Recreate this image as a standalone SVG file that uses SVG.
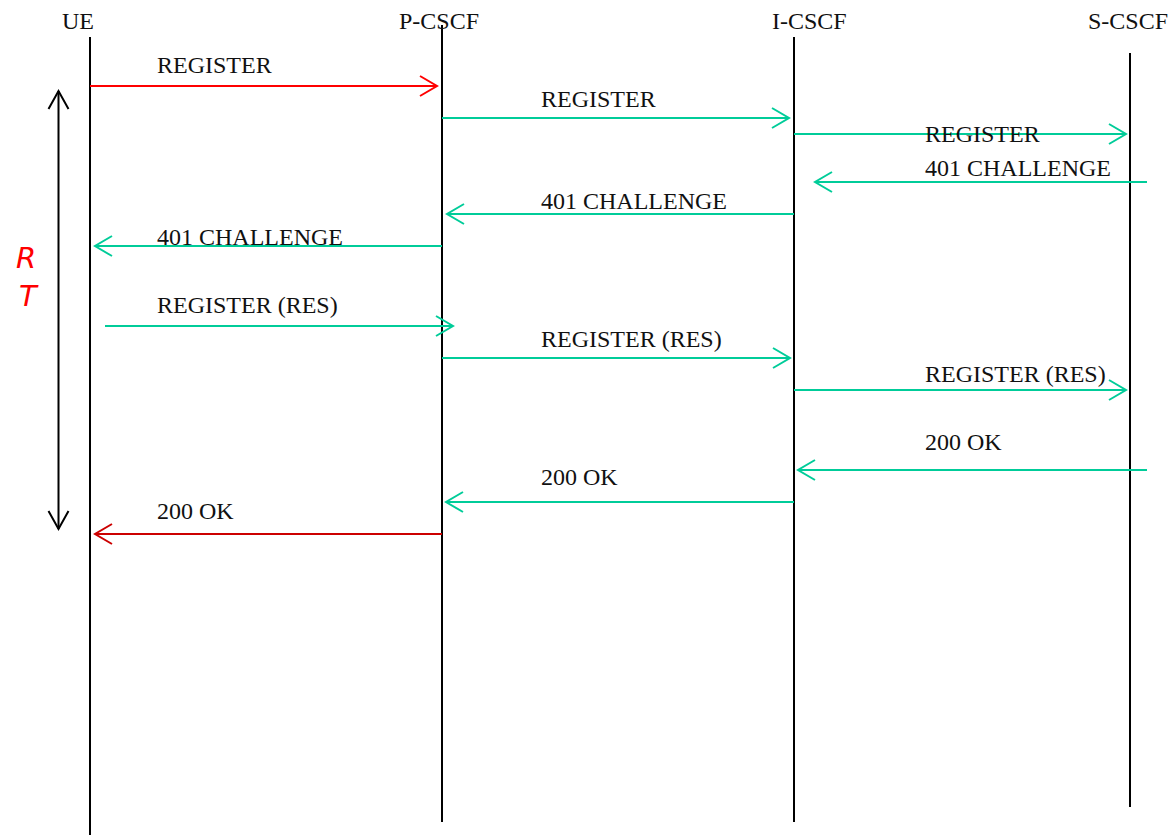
<svg xmlns="http://www.w3.org/2000/svg" width="1172" height="835" viewBox="0 0 1172 835">
<style>
.life{stroke:#000;stroke-width:2;fill:none}
.lbl{font-family:"Liberation Serif","Times New Roman",serif;font-size:24px;fill:#111}
.msg{stroke-width:2;fill:none}
.g{stroke:#00CC99}
.r{stroke:#FF0000}
.dr{stroke:#CC0000}
.rt{font-family:"DejaVu Sans","Liberation Sans",sans-serif;font-style:italic;font-size:29px;fill:#FF0000}
</style>
<defs>
<marker id="ag" markerUnits="userSpaceOnUse" markerWidth="22" markerHeight="26" viewBox="-19 -12 22 24" refX="0" refY="0" orient="auto"><path d="M-17,-10 L0,0 L-17,10" fill="none" stroke="#00CC99" stroke-width="2"/></marker>
<marker id="ar" markerUnits="userSpaceOnUse" markerWidth="22" markerHeight="26" viewBox="-19 -12 22 24" refX="0" refY="0" orient="auto"><path d="M-17,-10 L0,0 L-17,10" fill="none" stroke="#FF0000" stroke-width="2"/></marker>
<marker id="adr" markerUnits="userSpaceOnUse" markerWidth="22" markerHeight="26" viewBox="-19 -12 22 24" refX="0" refY="0" orient="auto"><path d="M-17,-10 L0,0 L-17,10" fill="none" stroke="#CC0000" stroke-width="2"/></marker>
<marker id="ak" markerUnits="userSpaceOnUse" markerWidth="22" markerHeight="26" viewBox="-19 -12 22 24" refX="0" refY="0" orient="auto-start-reverse"><path d="M-18,-10 L0,0 L-18,10" fill="none" stroke="#000" stroke-width="2"/></marker>
</defs>
<rect width="1172" height="835" fill="#fff"/>
<g id="ue">
<line class="life" x1="90" y1="37" x2="90" y2="835"/>
<text class="lbl" x="62" y="29">UE</text>
</g>
<g id="pcscf">
<line class="life" x1="442" y1="25" x2="442" y2="822"/>
<text class="lbl" x="399" y="29">P-CSCF</text>
</g>
<g id="icscf">
<line class="life" x1="794" y1="37" x2="794" y2="822"/>
<text class="lbl" x="772" y="29">I-CSCF</text>
</g>
<g id="scscf">
<line class="life" x1="1130" y1="53" x2="1130" y2="807"/>
<text class="lbl" x="1088" y="29">S-CSCF</text>
</g>
<g id="rt">
<line x1="58.5" y1="91" x2="58.5" y2="529" stroke="#000" stroke-width="2" marker-start="url(#ak)" marker-end="url(#ak)"/>
<text class="rt" x="16" y="268">R</text>
<text class="rt" x="19" y="306">T</text>
</g>
<g id="connectors">
<line class="msg r" x1="90" y1="86" x2="437" y2="86" marker-end="url(#ar)"/>
<text class="lbl" x="157" y="73">REGISTER</text>
<line class="msg g" x1="442" y1="118" x2="789" y2="118" marker-end="url(#ag)"/>
<text class="lbl" x="541" y="107">REGISTER</text>
<line class="msg g" x1="794" y1="134" x2="1126" y2="134" marker-end="url(#ag)"/>
<text class="lbl" x="925" y="142">REGISTER</text>
<line class="msg g" x1="1147" y1="182" x2="815" y2="182" marker-end="url(#ag)"/>
<text class="lbl" x="925" y="176">401 CHALLENGE</text>
<line class="msg g" x1="794" y1="214" x2="447" y2="214" marker-end="url(#ag)"/>
<text class="lbl" x="541" y="209">401 CHALLENGE</text>
<line class="msg g" x1="442" y1="246" x2="95" y2="246" marker-end="url(#ag)"/>
<text class="lbl" x="157" y="245">401 CHALLENGE</text>
<line class="msg g" x1="105" y1="326" x2="453" y2="326" marker-end="url(#ag)"/>
<text class="lbl" x="157" y="313">REGISTER (RES)</text>
<line class="msg g" x1="442" y1="358" x2="790" y2="358" marker-end="url(#ag)"/>
<text class="lbl" x="541" y="347">REGISTER (RES)</text>
<line class="msg g" x1="794" y1="390" x2="1126" y2="390" marker-end="url(#ag)"/>
<text class="lbl" x="925" y="382">REGISTER (RES)</text>
<line class="msg g" x1="1147" y1="470" x2="798" y2="470" marker-end="url(#ag)"/>
<text class="lbl" x="925" y="450">200 OK</text>
<line class="msg g" x1="794" y1="502" x2="446" y2="502" marker-end="url(#ag)"/>
<text class="lbl" x="541" y="485">200 OK</text>
<line class="msg dr" x1="442" y1="534" x2="95" y2="534" marker-end="url(#adr)"/>
<text class="lbl" x="157" y="519">200 OK</text>
</g>
</svg>
